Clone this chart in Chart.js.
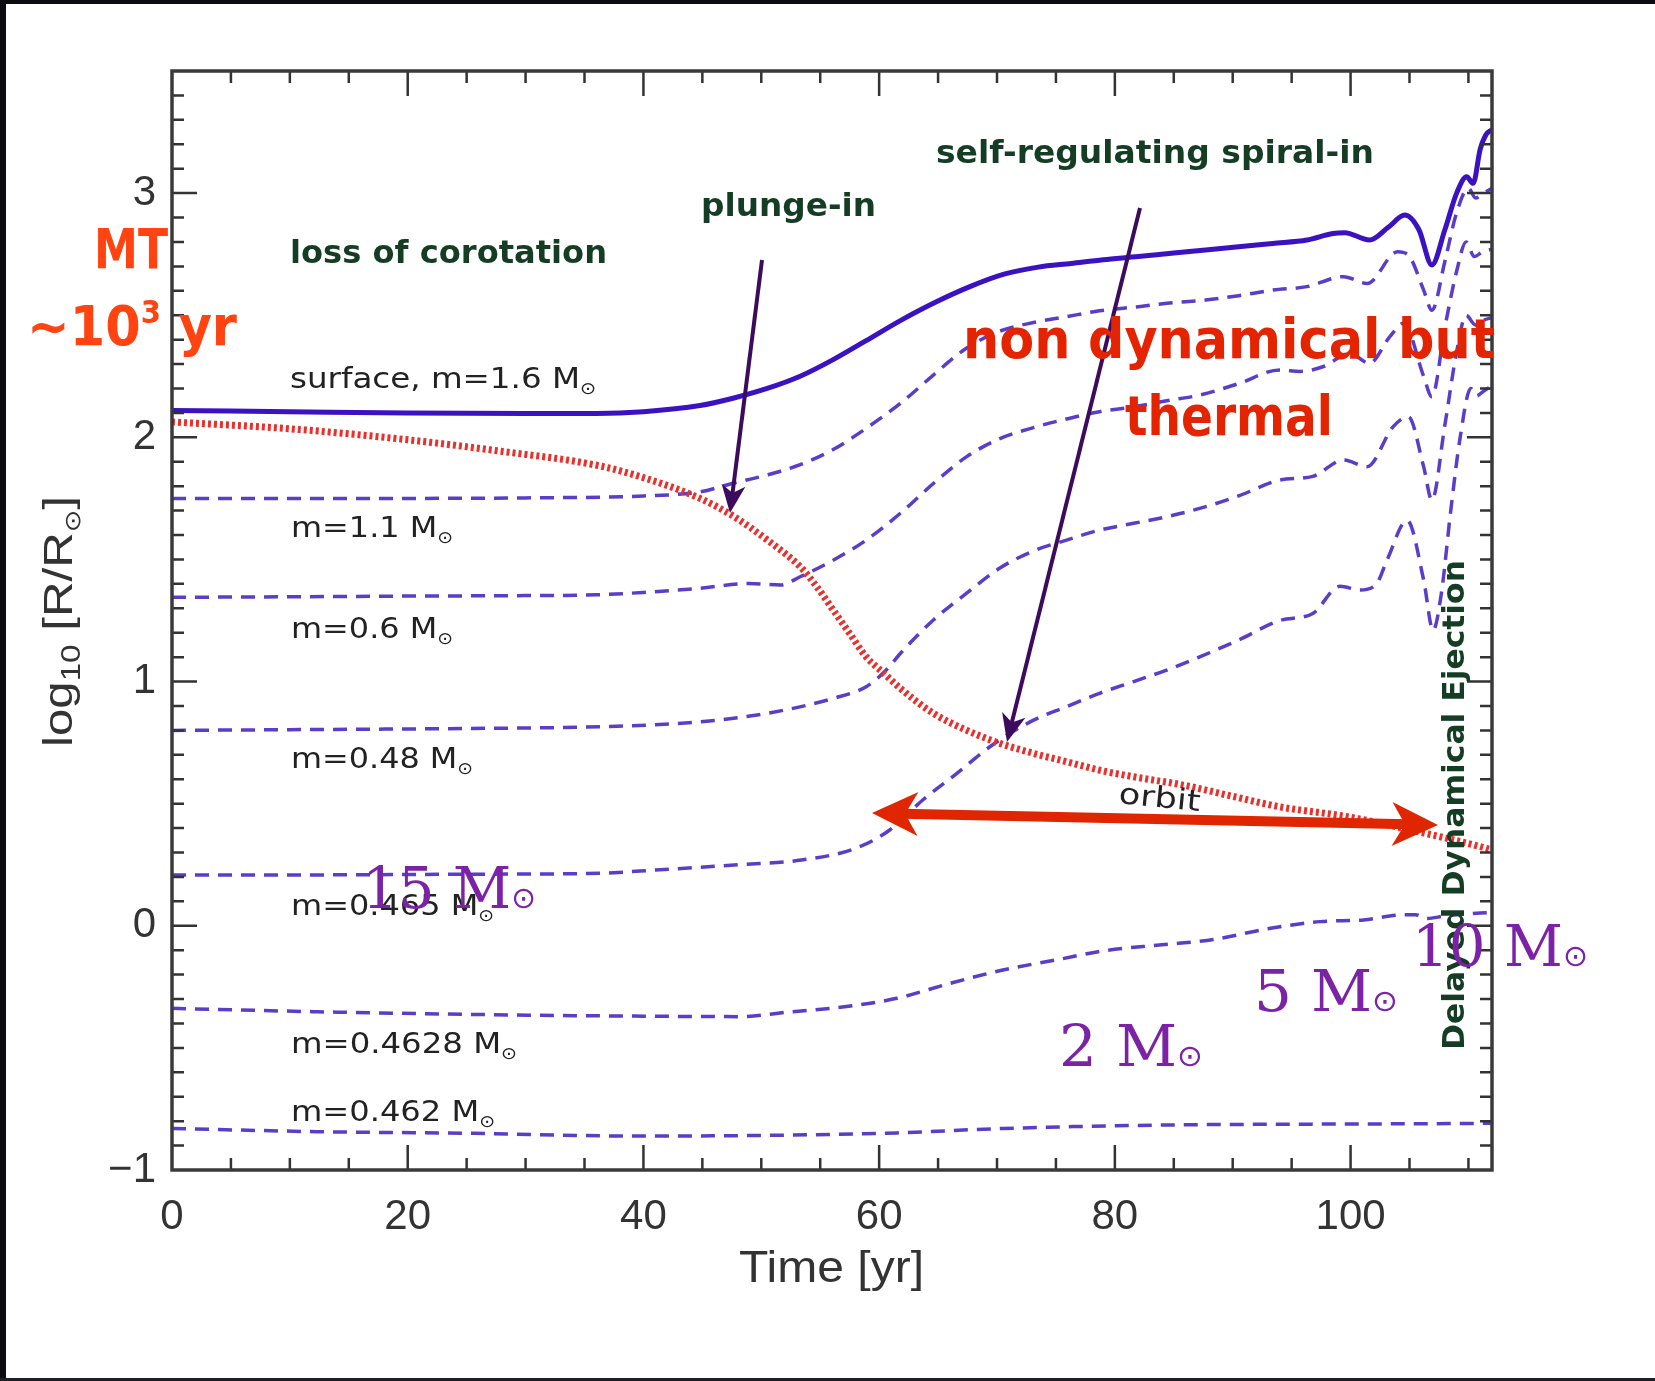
<!DOCTYPE html>
<html>
<head>
<meta charset="utf-8">
<script src="https://cdn.jsdelivr.net/npm/chart.js@4.4.1/dist/chart.umd.min.js"></script>
<style>
  html, body { margin: 0; padding: 0; background: #fff; overflow: hidden; }
  #wrap { position: absolute; left: 0; top: 0; width: 1655px; height: 1381px; }
  #c { display: block; }
  .edge { position: fixed; background: #0c0c10; }
  #eL { left: 0; top: 0; bottom: 0; width: 6px; }
  #eT { left: 0; top: 0; right: 0; height: 4px; }
  #eB { left: 0; bottom: 0; right: 0; height: 3px; background: #1e1e26; }
</style>
</head>
<body>
<div id="wrap"><canvas id="c" width="1655" height="1381"></canvas></div>
<div class="edge" id="eL"></div><div class="edge" id="eT"></div><div class="edge" id="eB"></div>
<script>
// axis ticks
const xTicks = [0, 20, 40, 60, 80, 100];
const yTicks = [-1, 0, 1, 2, 3];

// surface, m=1.6 Msun (solid)
const surfaceT = [0, 10, 20, 30, 36, 40, 44.8, 47.6, 50.5, 53.3, 56.1, 58.9, 61.8, 64.6, 67.7, 70.6, 73.5, 76.3, 79, 82, 85, 87.7, 90.5, 93.4, 96.3, 98.5, 99.5, 101.6, 103.2, 104.6, 105.8, 106.9, 108, 109, 109.85, 110.4, 111, 111.5, 112];
const surfaceR = [2.11, 2.105, 2.1, 2.098, 2.098, 2.105, 2.13, 2.16, 2.2, 2.25, 2.318, 2.396, 2.478, 2.549, 2.617, 2.668, 2.697, 2.712, 2.727, 2.74, 2.755, 2.767, 2.78, 2.794, 2.808, 2.835, 2.838, 2.808, 2.86, 2.91, 2.85, 2.706, 2.85, 3.0, 3.067, 3.04, 3.18, 3.24, 3.26];

// orbit (red dotted)
const orbitT = [0, 10, 20, 27.6, 36.1, 40, 44.8, 47.6, 50.5, 53.3, 54.7, 56.1, 57.5, 58.9, 60.4, 61.8, 64.6, 67.4, 70.25, 73.1, 75.9, 78.7, 81.6, 85.8, 90, 94, 99.7, 105.3, 111, 112];
const orbitR = [2.063, 2.035, 1.99, 1.945, 1.885, 1.835, 1.75, 1.678, 1.58, 1.47, 1.389, 1.293, 1.197, 1.101, 1.034, 0.972, 0.87, 0.801, 0.747, 0.706, 0.672, 0.637, 0.61, 0.576, 0.53, 0.487, 0.447, 0.39, 0.324, 0.31];

// mass shells (dashed)
const m11T = [0, 10, 20, 30, 40, 44.8, 47.6, 50.5, 53.3, 56.1, 58.9, 61.8, 64.6, 67.4, 70.25, 73.1, 75.9, 78.7, 82, 84.4, 87.7, 90.5, 93.4, 96.3, 99.4, 101.4, 104, 105, 106.2, 106.9, 108, 109, 110, 110.6, 111.3, 112];
const m11R = [1.75, 1.75, 1.75, 1.752, 1.76, 1.777, 1.812, 1.846, 1.888, 1.95, 2.037, 2.139, 2.255, 2.365, 2.435, 2.47, 2.494, 2.518, 2.535, 2.549, 2.562, 2.58, 2.603, 2.617, 2.658, 2.63, 2.76, 2.74, 2.603, 2.52, 2.72, 2.92, 3.02, 2.98, 3.0, 3.02];

const m06T = [0, 10, 20, 30, 36, 40, 44.8, 49, 51.6, 53.3, 56.1, 58.9, 61.8, 64.6, 67.4, 70.25, 73.1, 75.9, 78.7, 81.6, 84.4, 87.2, 90.5, 94, 95.7, 97.7, 99.95, 101.6, 103.3, 104.5, 106.2, 106.9, 108, 109, 109.8, 110.5, 111.2, 112];
const m06R = [1.345, 1.347, 1.35, 1.352, 1.355, 1.365, 1.382, 1.402, 1.395, 1.429, 1.497, 1.579, 1.689, 1.811, 1.92, 1.995, 2.04, 2.075, 2.105, 2.125, 2.15, 2.173, 2.22, 2.276, 2.27, 2.29, 2.344, 2.303, 2.41, 2.467, 2.25, 2.166, 2.45, 2.68, 2.8, 2.74, 2.76, 2.77];

const m048T = [0, 10, 20, 30, 36.3, 44.8, 50.5, 56.1, 58.9, 60.6, 61.8, 64.6, 67.4, 70.25, 73.1, 75.9, 78.7, 81.6, 84.4, 87.2, 90.5, 94, 96.8, 99.4, 101.4, 103.6, 104.9, 106.2, 106.9, 108, 109, 109.8, 110.6, 111.3, 112];
const m048R = [0.8, 0.803, 0.806, 0.81, 0.815, 0.835, 0.87, 0.931, 0.979, 1.047, 1.115, 1.252, 1.361, 1.465, 1.535, 1.579, 1.62, 1.648, 1.675, 1.709, 1.76, 1.825, 1.84, 1.907, 1.88, 2.043, 2.084, 1.88, 1.743, 2.05, 2.35, 2.5, 2.46, 2.48, 2.49];

const m0465T = [0, 10, 20, 30, 36.3, 41, 47.7, 53.4, 58, 60.9, 63.7, 66.6, 69.4, 73.1, 75.9, 78.7, 81.6, 84.4, 87.2, 90.5, 94, 96.8, 99.1, 100.8, 102.2, 103.1, 104.8, 106.2, 107, 107.7, 108.5, 109.3, 110.2, 110.7, 111.3, 112];
const m0465R = [0.208, 0.208, 0.21, 0.212, 0.215, 0.228, 0.249, 0.269, 0.317, 0.392, 0.515, 0.624, 0.733, 0.842, 0.897, 0.952, 1.0, 1.047, 1.101, 1.17, 1.25, 1.279, 1.39, 1.375, 1.4, 1.498, 1.66, 1.416, 1.21, 1.36, 1.7, 2.0, 2.2, 2.17, 2.19, 2.21];

const m04628T = [0, 12.3, 30.2, 40, 48.1, 52.6, 57.05, 61.5, 66, 70.5, 75, 79.4, 84, 88.4, 92.9, 97.4, 101.1, 104.2, 105.5, 106.5, 108, 111, 112];
const m04628R = [-0.338, -0.352, -0.366, -0.37, -0.372, -0.352, -0.332, -0.297, -0.236, -0.181, -0.14, -0.1, -0.078, -0.056, -0.013, 0.017, 0.024, 0.044, 0.045, 0.03, 0.04, 0.052, 0.055];

const m0462T = [0, 12.3, 25.7, 39.1, 52.6, 61.5, 70.5, 83.9, 97.4, 110.8, 112];
const m0462R = [-0.83, -0.843, -0.85, -0.861, -0.857, -0.848, -0.83, -0.816, -0.812, -0.809, -0.808];

// label text
const shellMasses = ['1.1', '0.6', '0.48', '0.465', '0.4628', '0.462'];
const starMasses = ['15', '10', '5', '2'];

const pts = (t, r) => t.map((x, i) => ({ x: x, y: r[i] }));

const SANS = '"DejaVu Sans", "Liberation Sans", sans-serif';
const HELV = '"Liberation Sans", Arial, sans-serif';
const SERIF = '"DejaVu Serif", "Liberation Serif", serif';

function drawRuns(ctx, parts, x, y, width, angle) {
  let total = 0;
  for (const p of parts) { ctx.font = p.font; total += ctx.measureText(p.text).width; }
  ctx.save();
  ctx.translate(x, y);
  if (angle) ctx.rotate(angle);
  ctx.scale(width / total, 1);
  let cx = 0;
  for (const p of parts) {
    ctx.font = p.font;
    ctx.fillText(p.text, cx, p.dy || 0);
    cx += ctx.measureText(p.text).width;
  }
  ctx.restore();
}

function head(ctx, x1, y1, x2, y2, len, half) {
  const a = Math.atan2(y2 - y1, x2 - x1);
  ctx.save();
  ctx.translate(x2, y2);
  ctx.rotate(a);
  ctx.beginPath();
  ctx.moveTo(0, 0);
  ctx.lineTo(-len, -half);
  ctx.lineTo(-len * 0.72, 0);
  ctx.lineTo(-len, half);
  ctx.closePath();
  ctx.fill();
  ctx.restore();
}

function shaft(ctx, x1, y1, x2, y2, back1, back2) {
  const d = Math.hypot(x2 - x1, y2 - y1);
  const ux = (x2 - x1) / d, uy = (y2 - y1) / d;
  ctx.beginPath();
  ctx.moveTo(x1 + ux * back1, y1 + uy * back1);
  ctx.lineTo(x2 - ux * back2, y2 - uy * back2);
  ctx.stroke();
}

const pagePlugin = {
  id: 'page',
  beforeDraw(chart) {
    const c = chart.ctx;
    c.save();
    c.fillStyle = '#ffffff';
    c.fillRect(0, 0, chart.width, chart.height);
    c.restore();
  }
};

const framePlugin = {
  id: 'frame',
  afterDatasetsDraw(chart) {
    const { ctx, chartArea: a, scales: { x, y } } = chart;
    ctx.save();
    ctx.strokeStyle = '#333';
    ctx.lineWidth = 2.5;
    ctx.beginPath();
    for (let v = 5; v < 112; v += 5) {
      const px = x.getPixelForValue(v);
      const len = v % 20 === 0 ? 25 : 12;
      ctx.moveTo(px, a.bottom); ctx.lineTo(px, a.bottom - len);
      ctx.moveTo(px, a.top); ctx.lineTo(px, a.top + len);
    }
    for (let k = -9; k < 35; k++) {
      const py = y.getPixelForValue(k / 10);
      const len = k % 10 === 0 ? 25 : 12;
      ctx.moveTo(a.left, py); ctx.lineTo(a.left + len, py);
      ctx.moveTo(a.right, py); ctx.lineTo(a.right - len, py);
    }
    ctx.stroke();
    ctx.lineWidth = 3.5;
    ctx.strokeStyle = '#3a3a3a';
    ctx.strokeRect(a.left, a.top, a.right - a.left, a.bottom - a.top);
    ctx.restore();
  }
};

const notePlugin = {
  id: 'notes',
  afterDraw(chart) {
    const ctx = chart.ctx;
    ctx.save();
    ctx.textAlign = 'left';
    ctx.textBaseline = 'alphabetic';

    // axis titles
    ctx.fillStyle = '#333';
    drawRuns(ctx, [
      { text: 'log', font: '40px ' + HELV },
      { text: '10', font: '27px ' + HELV, dy: 8 },
      { text: ' [R/R', font: '40px ' + HELV },
      { text: '⊙', font: '22px ' + SANS, dy: 8 },
      { text: ']', font: '40px ' + HELV }
    ], 72, 747, 251, -Math.PI / 2);
    drawRuns(ctx, [{ text: 'Time [yr]', font: '44px ' + HELV }], 739, 1282, 185);

    // shell labels
    ctx.fillStyle = '#222';
    const lbl = '29px ' + SANS, sub = '17px ' + SANS;
    drawRuns(ctx, [{ text: 'surface, m=1.6 M', font: lbl }, { text: '⊙', font: sub, dy: 6 }], 290, 388, 306);
    const shellPos = [[537, 162], [638, 162], [768, 182], [915, 203], [1053, 226], [1121, 204]];
    shellMasses.forEach((m, i) => {
      drawRuns(ctx, [{ text: 'm=' + m + ' M', font: lbl }, { text: '⊙', font: sub, dy: 6 }], 291, shellPos[i][0], shellPos[i][1]);
    });
    drawRuns(ctx, [{ text: 'orbit', font: lbl }], 1118, 803, 82, 0.1);

    // phase labels (dark green)
    ctx.fillStyle = '#143d24';
    const grn = 'bold 32px ' + SANS;
    drawRuns(ctx, [{ text: 'loss of corotation', font: grn }], 290, 263, 317);
    drawRuns(ctx, [{ text: 'plunge-in', font: grn }], 701, 216, 175);
    drawRuns(ctx, [{ text: 'self-regulating spiral-in', font: grn }], 936, 163, 438);
    drawRuns(ctx, [{ text: 'Delayed Dynamical Ejection', font: 'bold 31px ' + SANS }], 1464, 1050, 490, -Math.PI / 2);

    // arrows
    ctx.strokeStyle = '#3c0b5e';
    ctx.fillStyle = '#3c0b5e';
    ctx.lineWidth = 4;
    shaft(ctx, 762, 260, 730, 513, 0, 18);
    head(ctx, 762, 260, 730, 513, 28, 12);
    shaft(ctx, 1140, 208, 1007, 742, 0, 18);
    head(ctx, 1140, 208, 1007, 742, 28, 12);

    ctx.strokeStyle = '#e02600';
    ctx.fillStyle = '#e02600';
    ctx.lineWidth = 10;
    shaft(ctx, 872, 813, 1438, 825, 30, 30);
    head(ctx, 1438, 825, 872, 813, 46, 22);
    head(ctx, 872, 813, 1438, 825, 46, 22);

    // red remarks
    const red = 'bold 56px "Comic Sans MS", ' + SANS;
    ctx.fillStyle = '#ff4412';
    drawRuns(ctx, [{ text: 'MT', font: red }], 94, 268, 74);
    drawRuns(ctx, [
      { text: '~10', font: red },
      { text: '3', font: 'bold 32px ' + SANS, dy: -22 },
      { text: ' yr', font: red }
    ], 27, 345, 210);
    ctx.fillStyle = '#e42300';
    drawRuns(ctx, [{ text: 'non dynamical but', font: red }], 963, 358, 532);
    drawRuns(ctx, [{ text: 'thermal', font: red }], 1125, 435, 208);

    // companion masses (purple)
    ctx.fillStyle = '#7b22a6';
    const starPos = [[362, 908, 174], [1412, 966, 176], [1254, 1011, 144], [1059, 1066, 144]];
    starMasses.forEach((m, i) => {
      drawRuns(ctx, [{ text: m + ' M', font: '58px ' + SERIF }, { text: '⊙', font: '30px ' + SANS }], starPos[i][0], starPos[i][1], starPos[i][2]);
    });
    ctx.restore();
  }
};

const dashed = (t, r) => ({
  data: pts(t, r), borderColor: '#5a3dc8', borderWidth: 3.5, borderDash: [14, 9],
  pointRadius: 0, cubicInterpolationMode: 'monotone', fill: false
});

new Chart(document.getElementById('c'), {
  type: 'line',
  data: {
    datasets: [
      { data: pts(orbitT, orbitR), borderColor: '#e8302c', borderWidth: 7, borderDash: [3, 3],
        pointRadius: 0, cubicInterpolationMode: 'monotone', fill: false },
      { data: pts(surfaceT, surfaceR), borderColor: '#3a12c2', borderWidth: 5,
        pointRadius: 0, cubicInterpolationMode: 'monotone', fill: false },
      dashed(m11T, m11R),
      dashed(m06T, m06R),
      dashed(m048T, m048R),
      dashed(m0465T, m0465R),
      dashed(m04628T, m04628R),
      dashed(m0462T, m0462R)
    ]
  },
  options: {
    responsive: false,
    animation: false,
    devicePixelRatio: 1,
    layout: { padding: { left: 0, top: 71, right: 163, bottom: 0 } },
    plugins: { legend: { display: false }, tooltip: { enabled: false } },
    scales: {
      x: {
        type: 'linear', min: 0, max: 112,
        afterBuildTicks: s => { s.ticks = xTicks.map(v => ({ value: v })); },
        afterFit: s => { s.height = 211; },
        grid: { display: false, drawTicks: false },
        border: { display: false },
        ticks: { color: '#333', padding: 22, maxRotation: 0, autoSkip: false,
          font: { family: HELV, size: 42 } }
      },
      y: {
        type: 'linear', min: -1, max: 3.5,
        afterBuildTicks: s => { s.ticks = yTicks.map(v => ({ value: v })); },
        afterFit: s => { s.width = 172; },
        grid: { display: false, drawTicks: false },
        border: { display: false },
        ticks: { color: '#333', padding: 16, autoSkip: false,
          font: { family: HELV, size: 42 },
          callback: v => (v < 0 ? '\u2212' + Math.abs(v) : String(v)) }
      }
    }
  },
  plugins: [pagePlugin, framePlugin, notePlugin]
});
</script>
</body>
</html>
